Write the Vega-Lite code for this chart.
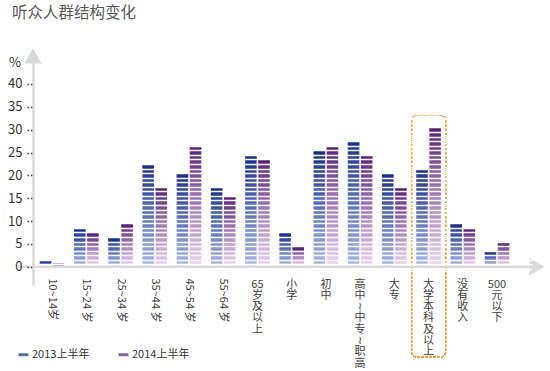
{
  "$schema": "https://vega.github.io/schema/vega-lite/v6.json",
  "width": 499,
  "height": 233,
  "autosize": {"type": "none"},
  "padding": {"left": 33, "top": 52, "right": 18, "bottom": 86},
  "config": {"view": {"stroke": null}, "font": "Noto Sans CJK SC"},
  "title": {"text": "听众人群结构变化", "anchor": "start", "frame": "group", "dx": -21, "offset": 27, "fontSize": 15.5, "fontWeight": "normal", "color": "#595959", "font": "Noto Sans CJK SC"},
  "data": {"values": [
    {"group": "10~14岁", "year": "2013上半年", "value": 1},
    {"group": "10~14岁", "year": "2014上半年", "value": 0.3},
    {"group": "15~24 岁", "year": "2013上半年", "value": 8},
    {"group": "15~24 岁", "year": "2014上半年", "value": 7},
    {"group": "25~34 岁", "year": "2013上半年", "value": 6},
    {"group": "25~34 岁", "year": "2014上半年", "value": 9},
    {"group": "35~44 岁", "year": "2013上半年", "value": 22},
    {"group": "35~44 岁", "year": "2014上半年", "value": 17},
    {"group": "45~54 岁", "year": "2013上半年", "value": 20},
    {"group": "45~54 岁", "year": "2014上半年", "value": 26},
    {"group": "55~64 岁", "year": "2013上半年", "value": 17},
    {"group": "55~64 岁", "year": "2014上半年", "value": 15},
    {"group": "65 岁及以上", "year": "2013上半年", "value": 24},
    {"group": "65 岁及以上", "year": "2014上半年", "value": 23},
    {"group": "小学", "year": "2013上半年", "value": 7},
    {"group": "小学", "year": "2014上半年", "value": 4},
    {"group": "初中", "year": "2013上半年", "value": 25},
    {"group": "初中", "year": "2014上半年", "value": 26},
    {"group": "高中~中专~职高", "year": "2013上半年", "value": 27},
    {"group": "高中~中专~职高", "year": "2014上半年", "value": 24},
    {"group": "大专", "year": "2013上半年", "value": 20},
    {"group": "大专", "year": "2014上半年", "value": 17},
    {"group": "大学本科及以上", "year": "2013上半年", "value": 21},
    {"group": "大学本科及以上", "year": "2014上半年", "value": 30},
    {"group": "没有收入", "year": "2013上半年", "value": 9},
    {"group": "没有收入", "year": "2014上半年", "value": 8},
    {"group": "500 元以下", "year": "2013上半年", "value": 3},
    {"group": "500 元以下", "year": "2014上半年", "value": 5}
  ]},
  "layer": [
    {
      "layer": [
        {
          "mark": {"type": "bar", "yOffset": -1.6, "y2Offset": 1.6},
          "encoding": {
            "x": {
              "field": "group", "type": "nominal",
              "scale": {"domain": ["10~14岁", "15~24 岁", "25~34 岁", "35~44 岁", "45~54 岁", "55~64 岁", "65 岁及以上", "小学", "初中", "高中~中专~职高", "大专", "大学本科及以上", "没有收入", "500 元以下"], "paddingInner": 0.28, "paddingOuter": 0.43, "align": 0.23},
              "axis": {
                "orient": "bottom", "title": null, "domain": false, "ticks": false, "tickSize": 0, "labelPadding": -7,
                "labelFontSize": 11, "labelColor": "#404040", "labelFont": "Noto Sans CJK SC",
                "labelAngle": 90, "labelAlign": "left", "labelBaseline": "middle", "labelLimit": 300, "labelOverlap": false,
                "labelExpr": "test(/^[0-9]+~/, datum.value) ? datum.value : ''"
              }
            },
            "xOffset": {"field": "year", "type": "nominal", "scale": {"paddingInner": 0.12}},
            "y": {
              "field": "value", "type": "quantitative",
              "scale": {"domain": [-4, 47], "nice": false, "zero": false},
              "axis": {
                "orient": "left", "tickCount": 100, "format": "d",
                "values": [-0.5, 0, 0.5, 1.5, 2.5, 3.5, 4.5, 5, 5.5, 6.5, 7.5, 8.5, 9.5, 10, 10.5, 11.5, 12.5, 13.5, 14.5, 15, 15.5, 16.5, 17.5, 18.5, 19.5, 20, 20.5, 21.5, 22.5, 23.5, 24.5, 25, 25.5, 26.5, 27.5, 28.5, 29.5, 30, 30.5, 31.5, 32.5, 33.5, 34.5, 35, 35.5, 36.5, 37.5, 38.5, 39.5, 40],
                "labelExpr": "datum.value % 5 === 0 ? datum.label : ''",
                "labelOverlap": false,
                "title": "%", "titleAngle": 0, "titleAlign": "center", "titleBaseline": "middle", "titleX": -18.5, "titleY": 10,
                "titleFontSize": 13, "titleFontWeight": "normal", "titleColor": "#333333",
                "domain": true, "domainColor": "#d9d9d9", "domainWidth": 2.5,
                "grid": true, "gridColor": "#ffffff", "gridWidth": 1.3,
                "gridOpacity": {"condition": {"test": "datum.value % 1 !== 0", "value": 1}, "value": 0},
                "ticks": true, "tickSize": 6, "tickDash": [2.5, 2], "tickColor": "#333333", "tickWidth": 1.3,
                "tickOpacity": {"condition": {"test": "datum.value % 5 === 0", "value": 1}, "value": 0},
                "labelPadding": 5, "labelFontSize": 13, "labelColor": "#333333", "zindex": 1
              }
            },
            "color": {
              "condition": {"test": "datum.year === '2013上半年'", "value": {"gradient": "linear", "x1": 0, "y1": 1, "x2": 0, "y2": 0, "stops": [{"offset": 0, "color": "#aab8e6"}, {"offset": 0.5, "color": "#5b71bf"}, {"offset": 1, "color": "#1a2f8e"}]}},
              "value": {"gradient": "linear", "x1": 0, "y1": 1, "x2": 0, "y2": 0, "stops": [{"offset": 0, "color": "#ead3ee"}, {"offset": 0.5, "color": "#a67cb8"}, {"offset": 1, "color": "#5a2279"}]}
            }
          }
        },
        {
          "mark": {"type": "tick", "thickness": 3.3, "size": 11.5, "orient": "horizontal"},
          "encoding": {
            "x": {
              "field": "group", "type": "nominal",
              "axis": {
                "orient": "bottom", "title": null, "domain": false, "ticks": false, "tickSize": 0, "labelPadding": -7,
                "labelFontSize": 11, "labelColor": "#404040", "labelFont": "Noto Sans CJK SC", "labelLineHeight": 11.3,
                "labelAngle": 0, "labelAlign": "center", "labelBaseline": "top", "labelLimit": 300, "labelOverlap": false,
                "labelExpr": "test(/^[0-9]+~/, datum.value) ? '' : split(trim(replace(replace(datum.value, /~/g, '≀'), /([^0-9 ])/g, '\\n$1')), '\\n')"
              }
            },
            "xOffset": {"field": "year", "type": "nominal"},
            "y": {"field": "value", "type": "quantitative"},
            "color": {
              "field": "year", "type": "nominal",
              "scale": {"range": ["#17308a", "#581f7b"]},
              "legend": {"title": null, "orient": "none", "legendX": -15, "legendY": 297, "direction": "horizontal",
                "symbolType": "M-1,-0.3L1,-0.3L1,0.3L-1,0.3Z", "symbolSize": 100, "symbolStrokeWidth": 0,
                "labelFontSize": 11, "labelColor": "#333333", "columnPadding": 28, "labelOffset": 3}
            }
          }
        },
        {
          "mark": {"type": "bar", "filled": false, "color": "#f0a13a", "strokeDash": [2, 2], "strokeWidth": 1, "cornerRadius": 5, "width": {"band": 1.38}},
          "encoding": {
            "x": {"datum": "大学本科及以上", "type": "nominal", "axis": null},
            "y": {"datum": 33.15, "type": "quantitative"},
            "y2": {"datum": -19.76}
          }
        }
      ],
      "resolve": {"axis": {"x": "independent"}}
    },
    {
      "data": {"values": [{}]},
      "layer": [
        {
          "mark": {"type": "rule", "color": "#d9d9d9", "strokeWidth": 2.5},
          "encoding": {
            "x": {"datum": -0.026, "type": "quantitative", "scale": {"domain": [0, 1], "nice": false, "zero": false}, "axis": null},
            "x2": {"datum": 1},
            "y": {"datum": 0, "type": "quantitative"}
          }
        },
        {
          "mark": {"type": "point", "shape": "triangle-up", "filled": true, "color": "#d9d9d9", "size": 300, "opacity": 1},
          "encoding": {
            "x": {"datum": 0, "type": "quantitative", "axis": null},
            "y": {"datum": 46.1, "type": "quantitative"}
          }
        },
        {
          "mark": {"type": "point", "shape": "triangle-right", "filled": true, "color": "#d9d9d9", "size": 300, "opacity": 1},
          "encoding": {
            "x": {"datum": 1.01, "type": "quantitative", "axis": null},
            "y": {"datum": 0, "type": "quantitative"}
          }
        }
      ]
    }
  ],
  "resolve": {"scale": {"x": "independent"}, "axis": {"x": "independent"}}
}
